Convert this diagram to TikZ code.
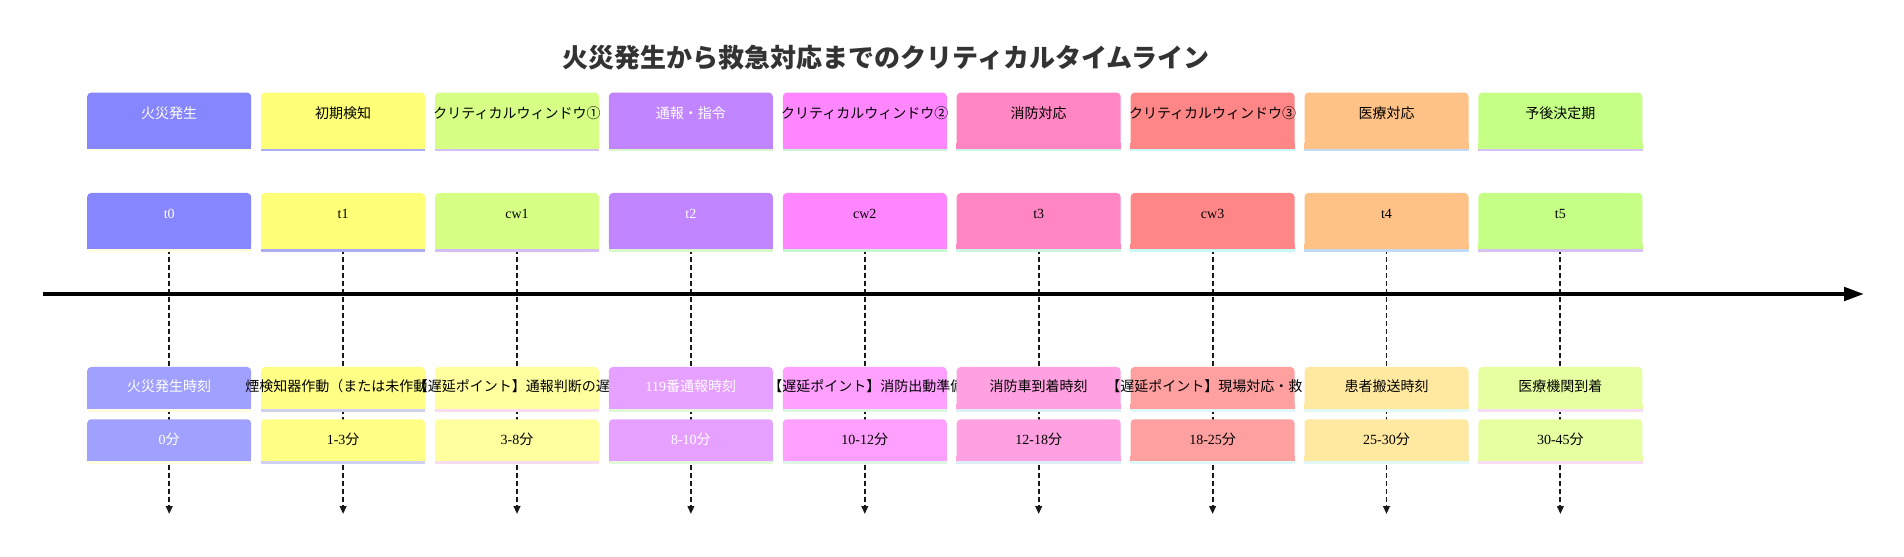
\documentclass[tikz,border=0pt]{standalone}
\usepackage{fontspec}
\setmainfont{Liberation Serif}
\newfontfamily\jp{Noto Sans CJK JP}
\usetikzlibrary{arrows.meta}
\usetikzlibrary{backgrounds}
\definecolor{titlegray}{HTML}{333333}
\definecolor{s1}{HTML}{8686FF}\definecolor{k1}{HTML}{FFFFDE}\definecolor{e1}{HTML}{A0A0FF}\definecolor{f1}{HTML}{FFFFE0}
\definecolor{s2}{HTML}{FFFF78}\definecolor{k2}{HTML}{ADADF5}\definecolor{e2}{HTML}{FFFF85}\definecolor{f2}{HTML}{D0D0F2}
\definecolor{s3}{HTML}{D7FF86}\definecolor{k3}{HTML}{D3BEF5}\definecolor{e3}{HTML}{FFFFA0}\definecolor{f3}{HTML}{F7DCF2}
\definecolor{s4}{HTML}{C186FF}\definecolor{k4}{HTML}{D8F5CC}\definecolor{e4}{HTML}{E6A0FF}\definecolor{f4}{HTML}{E2F7DA}
\definecolor{s5}{HTML}{FF86FF}\definecolor{k5}{HTML}{C8F5D6}\definecolor{e5}{HTML}{FFA0FF}\definecolor{f5}{HTML}{DCF5E4}
\definecolor{s6}{HTML}{FF86C3}\definecolor{k6}{HTML}{CCF5E6}\definecolor{e6}{HTML}{FFA0E0}\definecolor{f6}{HTML}{DCEFF7}
\definecolor{s7}{HTML}{FF8686}\definecolor{k7}{HTML}{CCF7F7}\definecolor{e7}{HTML}{FFA0A0}\definecolor{f7}{HTML}{E0F8F8}
\definecolor{s8}{HTML}{FFC286}\definecolor{k8}{HTML}{C2DAF5}\definecolor{e8}{HTML}{FFE8A0}\definecolor{f8}{HTML}{E0F8F8}
\definecolor{s9}{HTML}{C5FF86}\definecolor{k9}{HTML}{D8C2F5}\definecolor{e9}{HTML}{E6FFA0}\definecolor{f9}{HTML}{F8DCF5}
\tikzset{
  tlbox/.style={anchor=north, minimum width=123pt, inner sep=0pt, rounded corners=3pt},
  lbl/.style={inner sep=0pt, font=\fontsize{10.5pt}{12pt}\selectfont, text height=8.4pt, text depth=2.1pt},
  ttl/.style={inner sep=0pt, text=titlegray, font=\jp\bfseries\fontsize{19.5pt}{23pt}\selectfont},
  tick/.style={line width=1.4pt, black!90, dash pattern=on 3.5pt off 2.5pt, -{Triangle[length=6pt,width=5pt]}},
  axis/.style={line width=3pt, -{Triangle[length=15pt,width=10pt]}}
}
\newcommand{\secbox}[7]{\node[tlbox, minimum height=41.8pt, fill=#4] (#1) at (#2,#3) {}; \fill[#4] ([yshift=4pt]#1.south west) rectangle (#1.south east); \fill[#5] (#1.south west) rectangle ([yshift=-2pt]#1.south east); \node[lbl, text=#6] (#1t) at ([yshift=-16.5pt]#1.north) {#7};}
\newcommand{\evbox}[7]{\node[tlbox, minimum height=31.2pt, fill=#4] (#1) at (#2,#3) {}; \fill[#4] ([yshift=4pt]#1.south west) rectangle (#1.south east); \fill[#5] (#1.south west) rectangle ([yshift=-2pt]#1.south east); \node[lbl, text=#6] (#1t) at (#1.center) {#7};}

\begin{document}
\begin{tikzpicture}[x=0.75pt, y=-0.75pt]
        \begin{scope}[on background layer]
        \fill[white] (0,0) rectangle (1904,557);
        \end{scope}
        \useasboundingbox (0,0) rectangle (1904,557);
        \node[ttl] (title) at (886,58) {火災発生から救急対応までのクリティカルタイムライン};
        % sections
        \secbox{sec1}{169.2}{92.3}{s1}{k1}{white}{\jp 火災発生}
        \secbox{sec2}{343.1}{92.3}{s2}{k2}{black}{\jp 初期検知}
        \secbox{sec3}{517.0}{92.3}{s3}{k3}{black}{\jp クリティカルウィンドウ①}
        \secbox{sec4}{690.9}{92.3}{s4}{k4}{white}{\jp 通報・指令}
        \secbox{sec5}{864.8}{92.3}{s5}{k5}{black}{\jp クリティカルウィンドウ②}
        \secbox{sec6}{1038.7}{92.3}{s6}{k6}{black}{\jp 消防対応}
        \secbox{sec7}{1212.6}{92.3}{s7}{k7}{black}{\jp クリティカルウィンドウ③}
        \secbox{sec8}{1386.5}{92.3}{s8}{k8}{black}{\jp 医療対応}
        \secbox{sec9}{1560.4}{92.3}{s9}{k9}{black}{\jp 予後決定期}
        % time points
        \secbox{tm1}{169.2}{192.7}{s1}{k1}{white}{t0}
        \secbox{tm2}{343.1}{192.7}{s2}{k2}{black}{t1}
        \secbox{tm3}{517.0}{192.7}{s3}{k3}{black}{cw1}
        \secbox{tm4}{690.9}{192.7}{s4}{k4}{white}{t2}
        \secbox{tm5}{864.8}{192.7}{s5}{k5}{black}{cw2}
        \secbox{tm6}{1038.7}{192.7}{s6}{k6}{black}{t3}
        \secbox{tm7}{1212.6}{192.7}{s7}{k7}{black}{cw3}
        \secbox{tm8}{1386.5}{192.7}{s8}{k8}{black}{t4}
        \secbox{tm9}{1560.4}{192.7}{s9}{k9}{black}{t5}
        % axis
        \coordinate (axisL) at (43,294);
        \coordinate (axisR) at (1864,294);
        \coordinate (axisB) at (0,514);
        \draw[axis] (axisL) -- (axisR);
        % events
        \evbox{ev1}{169.2}{366.7}{e1}{f1}{white}{\jp 火災発生時刻}
        \evbox{ev2}{343.1}{366.7}{e2}{f2}{black}{}
        \node[lbl, anchor=west] (ev2x) at (245,387.5) {\jp 煙検知器作動（または未作動};
        \evbox{ev3}{517.0}{366.7}{e3}{f3}{black}{}
        \node[lbl, anchor=west] (ev3x) at (413.5,387.5) {\jp 【遅延ポイント】通報判断の遅};
        \evbox{ev4}{690.9}{366.7}{e4}{f4}{white}{119{\jp 番通報時刻}}
        \evbox{ev5}{864.8}{366.7}{e5}{f5}{black}{}
        \node[lbl, anchor=west] (ev5x) at (768,387.5) {\jp 【遅延ポイント】消防出動準備};
        \evbox{ev6}{1038.7}{366.7}{e6}{f6}{black}{\jp 消防車到着時刻}
        \evbox{ev7}{1212.6}{366.7}{e7}{f7}{black}{}
        \node[lbl, anchor=west] (ev7x) at (1106,387.5) {\jp 【遅延ポイント】現場対応・救};
        \evbox{ev8}{1386.5}{366.7}{e8}{f8}{black}{\jp 患者搬送時刻}
        \evbox{ev9}{1560.4}{366.7}{e9}{f9}{black}{\jp 医療機関到着}
        % durations
        \evbox{du1}{169.2}{419}{e1}{f1}{white}{0{\jp 分}}
        \evbox{du2}{343.1}{419}{e2}{f2}{black}{1-3{\jp 分}}
        \evbox{du3}{517.0}{419}{e3}{f3}{black}{3-8{\jp 分}}
        \evbox{du4}{690.9}{419}{e4}{f4}{white}{8-10{\jp 分}}
        \evbox{du5}{864.8}{419}{e5}{f5}{black}{10-12{\jp 分}}
        \evbox{du6}{1038.7}{419}{e6}{f6}{black}{12-18{\jp 分}}
        \evbox{du7}{1212.6}{419}{e7}{f7}{black}{18-25{\jp 分}}
        \evbox{du8}{1386.5}{419}{e8}{f8}{black}{25-30{\jp 分}}
        \evbox{du9}{1560.4}{419}{e9}{f9}{black}{30-45{\jp 分}}
        % drop lines
        \begin{scope}[on background layer]
        \foreach \i in {1,...,9} {
            \coordinate (end\i) at (tm\i.south |- axisB);
            \draw[tick] (tm\i.south) -- (end\i);
        }
        \end{scope}
    \end{tikzpicture}
\end{document}
